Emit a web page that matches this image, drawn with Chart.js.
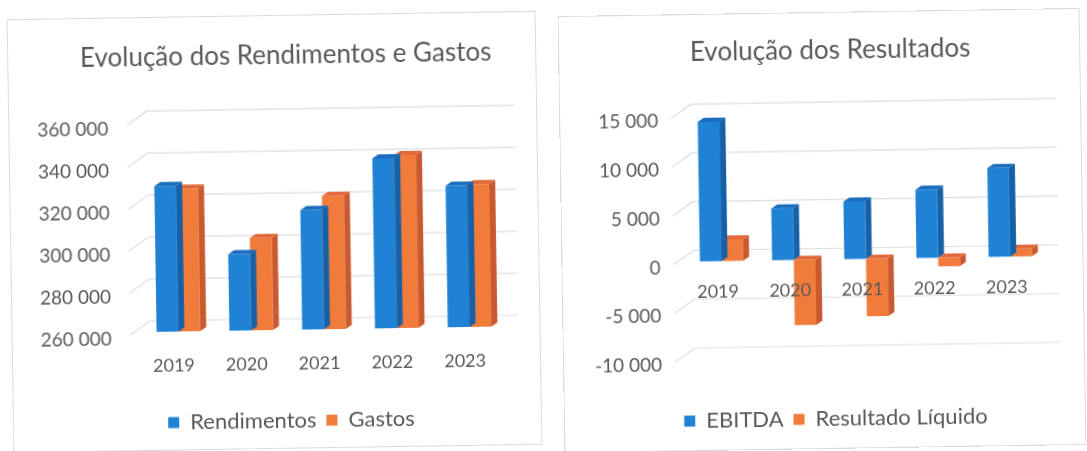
<!DOCTYPE html>
<html>
<head>
<meta charset="utf-8">
<script src="https://cdn.jsdelivr.net/npm/chart.js@4.4.1/dist/chart.umd.min.js"></script>
<style>
  html, body { margin: 0; padding: 0; background: #ffffff; width: 1087px; height: 451px; overflow: hidden; }
  .panel { position: absolute; border: 1px solid #dcdcdc; background: #ffffff; transform: rotate(-0.9deg); }
  #p1 { left: 10px; top: 15px; width: 527px; height: 432px; }
  #p2 { left: 561px; top: 12px; width: 520px; height: 435px; }
  canvas { position: absolute; left: 0; top: 0; }
</style>
</head>
<body>
<div class="panel" id="p1"><canvas id="c1" width="555" height="432"></canvas></div>
<div class="panel" id="p2"><canvas id="c2" width="542" height="435"></canvas></div>
<script>
// Categories and series
const years = ['2019', '2020', '2021', '2022', '2023'];
const rendimentos = [329500, 296500, 317000, 341000, 327500];
const gastos = [328000, 304000, 323500, 342500, 328000];
const ebitda = [14300, 5300, 5900, 7000, 9100];
const resultadoLiquido = [2200, -6700, -5900, -900, 800];

// Value axis ranges
const axis1 = { min: 260000, max: 360000, step: 20000 };
const axis2 = { min: -10000, max: 15000, step: 5000 };

const TEXT = '#595959';
const BLUE = { front: '#1f82d4', side: '#1660a8', top: '#1a6cbc' };
const ORANGE = { front: '#f07b3a', side: '#c95a30', top: '#e2683a' };

Chart.defaults.font.family = 'Lato, "Open Sans", sans-serif';
Chart.defaults.color = TEXT;
Chart.defaults.animation = false;

const fmt = v => String(v).replace(/\B(?=(\d{3})+(?!\d))/g, ' ');

// Pseudo-3D look: back-wall gridlines, then side and top faces on every bar
const DX = 6, DY = -4;
const bar3d = {
  id: 'bar3d',
  beforeDatasetsDraw(chart) {
    const ctx = chart.ctx;
    const ys = chart.scales.y;
    const { left, right } = chart.chartArea;
    ctx.save();
    ctx.strokeStyle = '#dedede';
    ctx.lineWidth = 1.2;
    ys.ticks.forEach(t => {
      const py = ys.getPixelForValue(t.value);
      ctx.beginPath();
      ctx.moveTo(left - 12, py + 3);
      ctx.lineTo(left + 8, py - 11);
      ctx.lineTo(right + 12, py - 11);
      ctx.stroke();
    });
    ctx.restore();
  },
  afterDatasetDraw(chart, args) {
    const ctx = chart.ctx;
    const ds = chart.data.datasets[args.index];
    const area = chart.chartArea;
    ctx.save();
    args.meta.data.forEach(el => {
      const { x, y, base, width } = el.getProps(['x', 'y', 'base', 'width'], true);
      const l = x - width / 2, r = x + width / 2;
      const top = Math.max(Math.min(y, base), area.top);
      const bot = Math.min(Math.max(y, base), area.bottom);
      ctx.fillStyle = ds.sideColor;
      ctx.beginPath();
      ctx.moveTo(r, top); ctx.lineTo(r + DX, top + DY);
      ctx.lineTo(r + DX, bot + DY); ctx.lineTo(r, bot);
      ctx.closePath(); ctx.fill();
      ctx.fillStyle = ds.topColor;
      ctx.beginPath();
      ctx.moveTo(l, top); ctx.lineTo(l + DX, top + DY);
      ctx.lineTo(r + DX, top + DY); ctx.lineTo(r, top);
      ctx.closePath(); ctx.fill();
    });
    ctx.restore();
  }
};

function series(label, data, c, base) {
  const d = {
    label, data,
    backgroundColor: c.front,
    sideColor: c.side,
    topColor: c.top,
    borderWidth: 0,
    categoryPercentage: 0.6,
    barPercentage: 1.0
  };
  if (base !== undefined) d.base = base;
  return d;
}

function legendOpts() {
  return {
    position: 'bottom',
    labels: { boxWidth: 11, boxHeight: 11, padding: 10, color: TEXT, font: { size: 22 } }
  };
}

function titleOpts(text, top, bottom) {
  return { display: true, text, color: TEXT, font: { size: 26, weight: 'normal' }, padding: { top, bottom } };
}

// Empty right-hand axis that only reserves space beside the plot
function spacer(w) {
  return {
    type: 'linear', position: 'right', display: true,
    grid: { display: false, drawTicks: false }, border: { display: false },
    ticks: { display: false },
    afterFit: s => { s.width = w; }
  };
}

// Chart 1: Rendimentos e Gastos
new Chart(document.getElementById('c1'), {
  type: 'bar',
  data: {
    labels: years,
    datasets: [
      series('Rendimentos', rendimentos, BLUE, axis1.min),
      series('Gastos', gastos, ORANGE, axis1.min)
    ]
  },
  options: {
    responsive: false,
    layout: { padding: { left: 0, right: 0, top: 0, bottom: 6 } },
    plugins: {
      title: titleOpts('Evolução dos Rendimentos e Gastos', 24, 49),
      legend: legendOpts(),
      tooltip: { enabled: false }
    },
    scales: {
      x: {
        grid: { display: false, drawTicks: false },
        border: { display: false },
        ticks: { padding: 23, labelOffset: -5, font: { size: 18 }, color: TEXT },
        afterFit: s => { s.height = 70; }
      },
      y: {
        min: axis1.min, max: axis1.max,
        grid: { display: false, drawTicks: false },
        border: { display: false },
        ticks: { stepSize: axis1.step, padding: 30.5, labelOffset: 7, font: { size: 19 }, color: TEXT, callback: fmt },
        afterFit: s => { s.width = 129.5; }
      },
      yr: spacer(61.5)
    }
  },
  plugins: [bar3d]
});

// Chart 2: Resultados
new Chart(document.getElementById('c2'), {
  type: 'bar',
  data: {
    labels: years,
    datasets: [
      series('EBITDA', ebitda, BLUE),
      series('Resultado Líquido', resultadoLiquido, ORANGE)
    ]
  },
  options: {
    responsive: false,
    layout: { padding: { left: 0, right: 0, top: 0, bottom: 8 } },
    plugins: {
      title: titleOpts('Evolução dos Resultados', 22, 47),
      legend: legendOpts(),
      tooltip: { enabled: false }
    },
    scales: {
      x: {
        grid: { display: false, drawTicks: false },
        border: { display: false },
        ticks: { display: false },
        afterFit: s => { s.height = 41; }
      },
      xl: {
        type: 'category',
        position: { y: 0 },
        offset: true,
        grid: { display: false, drawTicks: false },
        border: { display: false },
        ticks: { z: 1, padding: 20, labelOffset: -4, font: { size: 18 }, color: TEXT }
      },
      y: {
        min: axis2.min, max: axis2.max,
        grid: { display: false, drawTicks: false },
        border: { display: false },
        ticks: { stepSize: axis2.step, padding: 25, labelOffset: 6, font: { size: 19 }, color: TEXT, callback: fmt },
        afterFit: s => { s.width = 123; }
      },
      yr: spacer(58)
    }
  },
  plugins: [bar3d]
});
</script>
</body>
</html>
